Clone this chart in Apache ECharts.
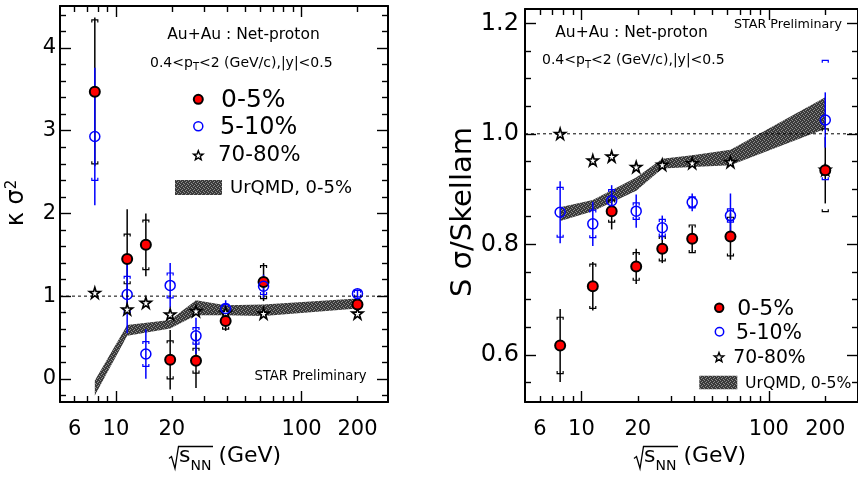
<!DOCTYPE html>
<html><head><meta charset="utf-8">
<script src="https://cdn.jsdelivr.net/npm/echarts@6/dist/echarts.min.js"></script>
<style>html,body{margin:0;padding:0;background:#fff}#c{width:858px;height:477px}</style>
</head><body><div id="c"></div>
<script>
// ---------- data ----------
const energies = [7.7, 11.5, 14.5, 19.6, 27, 39, 62.4, 200];
const bandEnergies = [7.7, 11.5, 19.6, 27, 39, 62.4, 200];
// left panel: kappa sigma^2
const kRed = [3.47, 1.45, 1.62, 0.23, 0.22, 0.70, 1.17, 0.90];
const kRedStat = [0.90, 0.60, 0.38, 0.36, 0.33, 0.12, 0.23, 0.05];
const kRedSys = [0.87, 0.30, 0.30, 0.23, 0.15, 0.10, 0.20, 0.05];
const kBlue = [2.93, 1.02, 0.30, 1.13, 0.52, 0.85, 1.12, 1.03];
const kBlueStat = [0.83, 0.47, 0.30, 0.27, 0.22, 0.10, 0.14, 0.05];
const kBlueSys = [0.53, 0.22, 0.15, 0.15, 0.10, 0.05, 0.10, 0.04];
const kStar = [1.04, 0.84, 0.92, 0.78, 0.82, 0.80, 0.79, 0.79];
const kBandLo = [-0.20, 0.52, 0.61, 0.77, 0.77, 0.76, 0.85];
const kBandHi = [-0.02, 0.65, 0.71, 0.95, 0.89, 0.90, 0.97];
// right panel: S sigma / Skellam
const sRed = [0.617, 0.724, 0.860, 0.760, 0.792, 0.810, 0.814, 0.934];
const sRedStat = [0.066, 0.044, 0.033, 0.032, 0.026, 0.024, 0.042, 0.060];
const sRedSys = [0.051, 0.040, 0.020, 0.025, 0.022, 0.025, 0.035, 0.075];
const sBlue = [0.858, 0.837, 0.879, 0.860, 0.830, 0.876, 0.852, 1.025];
const sBlueStat = [0.056, 0.040, 0.028, 0.030, 0.022, 0.016, 0.040, 0.050];
const sBlueSys = [0.045, 0.025, 0.020, 0.015, 0.015, 0.010, 0.012, 0.108];
const sStar = [1.000, 0.952, 0.959, 0.940, 0.944, 0.947, 0.949, 0.935];
const sBandLo = [0.842, 0.860, 0.897, 0.937, 0.940, 0.943, 1.009];
const sBandHi = [0.867, 0.880, 0.921, 0.955, 0.961, 0.971, 1.066];
// ticks
const xMajorTicks = [10, 100];
const xMinorTicks = [6, 7, 8, 9, 20, 30, 40, 50, 60, 70, 80, 90, 200];
const xTickLabels = [6, 10, 20, 100, 200];
const kMajorTicks = [0, 1, 2, 3, 4];
const kMinorTicks = [-0.2, 0.2, 0.4, 0.6, 0.8, 1.2, 1.4, 1.6, 1.8, 2.2, 2.4, 2.6, 2.8, 3.2, 3.4, 3.6, 3.8, 4.2, 4.4];
const sMajorTicks = [0.6, 0.8, 1.0, 1.2];
const sMinorTicks = [0.55, 0.65, 0.7, 0.75, 0.85, 0.9, 0.95, 1.05, 1.1, 1.15];

// ---------- setup ----------
const F = "'DejaVu Sans', sans-serif";
const chart = echarts.init(document.getElementById('c'), null, {renderer: 'canvas'});

const pat = (function () {
  const c = document.createElement('canvas'); c.width = 4; c.height = 4;
  const g = c.getContext('2d');
  g.fillStyle = '#3a3a3a'; g.fillRect(0, 0, 4, 4);
  g.fillStyle = '#8e8e8e';
  g.fillRect(0, 0, 1, 1); g.fillRect(2, 1, 1, 1); g.fillRect(1, 2, 1, 1); g.fillRect(3, 3, 1, 1);
  return c;
})();
const patFill = {image: pat, repeat: 'repeat'};
const STAR = 'path://M50,2 L61,37 L98,37 L68,59 L79,95 L50,73 L21,95 L32,59 L2,37 L39,37 Z';
function starPoints(cx, cy, R) {
  const pts = [];
  for (let k = 0; k < 10; k++) {
    const r = k % 2 ? R * 0.42 : R;
    const a = -Math.PI / 2 + k * Math.PI / 5;
    pts.push([cx + r * Math.cos(a), cy + r * Math.sin(a)]);
  }
  return pts;
}

function mkX(gi, xmax) {
  const b = {gridIndex: gi, type: 'log', logBase: 10, min: 5, max: xmax, splitLine: {show: false}, axisLabel: {show: false}};
  const line = {show: true, onZero: false, lineStyle: {color: '#000', width: 2}};
  const noLine = {show: false, onZero: false};
  const tk = (vals, len) => ({show: true, inside: true, length: len, customValues: vals, lineStyle: {color: '#000', width: 1.4}});
  return [
    Object.assign({}, b, {position: 'bottom', axisLine: line, axisTick: tk(xMajorTicks, 11),
      axisLabel: {show: true, customValues: xTickLabels, formatter: v => String(v), fontSize: 21, fontFamily: F, color: '#000', margin: 17}}),
    Object.assign({}, b, {position: 'bottom', axisLine: noLine, axisTick: tk(xMinorTicks, 6)}),
    Object.assign({}, b, {position: 'top', axisLine: line, axisTick: tk(xMajorTicks, 11)}),
    Object.assign({}, b, {position: 'top', axisLine: noLine, axisTick: tk(xMinorTicks, 6)})
  ];
}
function mkY(gi, min, max, major, minor, fmt, fs, margin) {
  const b = {gridIndex: gi, type: 'value', min: min, max: max, splitLine: {show: false}, axisLabel: {show: false}};
  const line = {show: true, onZero: false, lineStyle: {color: '#000', width: 2}};
  const noLine = {show: false, onZero: false};
  const tk = (vals, len) => ({show: true, inside: true, length: len, customValues: vals, lineStyle: {color: '#000', width: 1.4}});
  return [
    Object.assign({}, b, {position: 'left', axisLine: line, axisTick: tk(major, 11),
      axisLabel: {show: true, customValues: major, formatter: fmt, fontSize: fs, fontFamily: F, color: '#000', margin: margin}}),
    Object.assign({}, b, {position: 'left', axisLine: noLine, axisTick: tk(minor, 6)}),
    Object.assign({}, b, {position: 'right', axisLine: line, axisTick: tk(major, 11)}),
    Object.assign({}, b, {position: 'right', axisLine: noLine, axisTick: tk(minor, 6)})
  ];
}

function errRender(color) {
  return function (params, api) {
    const x = api.value(0), y = api.value(1), st = api.value(2), sy = api.value(3);
    const a = api.coord([x, y + st]), b = api.coord([x, y - st]);
    const c = api.coord([x, y + sy]), d = api.coord([x, y - sy]);
    const w = 3, h = 2.5;
    const ls = {stroke: color, fill: null, lineWidth: 1.2};
    return {type: 'group', children: [
      {type: 'line', shape: {x1: a[0], y1: a[1], x2: b[0], y2: b[1]}, style: {stroke: color, lineWidth: 1.5}},
      {type: 'polyline', shape: {points: [[c[0] - w, c[1] + h], [c[0] - w, c[1]], [c[0] + w, c[1]], [c[0] + w, c[1] + h]]}, style: ls},
      {type: 'polyline', shape: {points: [[d[0] - w, d[1] - h], [d[0] - w, d[1]], [d[0] + w, d[1]], [d[0] + w, d[1] - h]]}, style: ls}
    ]};
  };
}
function bandRender(lo, hi) {
  return function (params, api) {
    if (params.dataIndex !== 0) return null;
    const pts = [];
    for (let i = 0; i < bandEnergies.length; i++) pts.push(api.coord([bandEnergies[i], hi[i]]));
    for (let i = bandEnergies.length - 1; i >= 0; i--) pts.push(api.coord([bandEnergies[i], lo[i]]));
    return {type: 'polygon', shape: {points: pts}, style: {fill: patFill, stroke: null}};
  };
}
function panelSeries(xi, xmax, red, redStat, redSys, blue, blueStat, blueSys, star, lo, hi) {
  const ax = {xAxisIndex: xi, yAxisIndex: xi};
  return [
    Object.assign({type: 'line', data: [[5, 1], [xmax, 1]], showSymbol: false, symbol: 'none',
      lineStyle: {color: '#000', width: 1, type: [3, 3]}, silent: true}, ax),
    Object.assign({type: 'custom', name: 'UrQMD, 0-5%', renderItem: bandRender(lo, hi), encode: {x: 0, y: [1, 2]},
      data: bandEnergies.map((e, i) => [e, lo[i], hi[i]]), silent: true}, ax),
    Object.assign({type: 'scatter', name: '70-80%', data: energies.map((e, i) => [e, star[i]]), symbol: STAR, symbolSize: 11,
      itemStyle: {color: '#fff', borderColor: '#000', borderWidth: 1.6, opacity: 1}}, ax),
    Object.assign({type: 'custom', renderItem: errRender('#000'), encode: {x: 0, y: 1},
      data: energies.map((e, i) => [e, red[i], redStat[i], redSys[i]]), silent: true}, ax),
    Object.assign({type: 'scatter', name: '0-5%', data: energies.map((e, i) => [e, red[i]]), symbol: 'circle', symbolSize: 10,
      itemStyle: {color: '#ff0000', borderColor: '#000', borderWidth: 2, opacity: 1}}, ax),
    Object.assign({type: 'custom', renderItem: errRender('#0000ff'), encode: {x: 0, y: 1},
      data: energies.map((e, i) => [e, blue[i], blueStat[i], blueSys[i]]), silent: true}, ax),
    Object.assign({type: 'scatter', name: '5-10%', data: energies.map((e, i) => [e, blue[i]]), symbol: 'circle', symbolSize: 10,
      itemStyle: {color: 'rgba(255,255,255,0)', borderColor: '#0000ff', borderWidth: 1.5, opacity: 1}}, ax)
  ];
}

function txt(x, y, text, fs, opt) {
  return Object.assign({type: 'text', x: x, y: y, silent: true,
    style: Object.assign({text: text, fontSize: fs, fontFamily: F, fill: '#000', align: 'left', verticalAlign: 'middle'}, opt || {})});
}
function subLine(x, y, pre, sub, post, fs, sfs, pad) {
  return {type: 'text', x: x, y: y, silent: true, style: {
    text: '{a|' + pre + '}{s|' + sub + '}{a|' + post + '}', fontFamily: F, fill: '#000', align: 'left', verticalAlign: 'top',
    rich: {
      a: {fontSize: fs, fontFamily: F, lineHeight: fs, verticalAlign: 'top', fill: '#000'},
      s: {fontSize: sfs, fontFamily: F, lineHeight: sfs, verticalAlign: 'top', padding: [pad, 0, 0, 0], fill: '#000'}
    }}};
}
function legendBlock(o) {
  return [
    {type: 'circle', shape: {cx: o.rx, cy: o.ry, r: o.r}, style: {fill: '#ff0000', stroke: '#000', lineWidth: 2}, silent: true},
    txt(o.tx1, o.ty1, '0-5%', o.f1),
    {type: 'circle', shape: {cx: o.bx, cy: o.by, r: o.r}, style: {fill: '#fff', stroke: '#0000ff', lineWidth: 1.5}, silent: true},
    txt(o.tx2, o.ty2, '5-10%', o.f2),
    {type: 'polygon', shape: {points: starPoints(o.sx, o.sy, 5)}, style: {fill: '#fff', stroke: '#000', lineWidth: 1.4}, silent: true},
    txt(o.tx3, o.ty3, '70-80%', o.f3),
    {type: 'rect', shape: {x: o.qx, y: o.qy, width: o.qw, height: o.qh}, style: {fill: patFill}, silent: true},
    txt(o.tx4, o.ty4, 'UrQMD, 0-5%', o.f4)
  ];
}
function xTitle(x0, yTop) {
  return [
    {type: 'polyline', shape: {points: [[x0, yTop + 12], [x0 + 2.5, yTop + 10], [x0 + 6, yTop + 22], [x0 + 9.5, yTop], [x0 + 44, yTop]]},
      style: {stroke: '#000', lineWidth: 1.3, fill: null}, silent: true},
    subLine(x0 + 10, yTop - 1.5, 's', 'NN', ' (GeV)', 22, 14, 14)
  ];
}

const graphics = [].concat(
  [txt(243.5, 34.5, 'Au+Au : Net-proton', 15.5, {align: 'center'}),
   subLine(150, 56, '0.4<p', 'T', '<2 (GeV/c),|y|<0.5', 14, 10, 6.5),
   txt(310.5, 377, 'STAR Preliminary', 13.2, {align: 'center'}),
   txt(631.5, 32.5, 'Au+Au : Net-proton', 15.5, {align: 'center'}),
   subLine(542, 53.5, '0.4<p', 'T', '<2 (GeV/c),|y|<0.5', 14, 10, 6.5),
   txt(788, 24.8, 'STAR Preliminary', 12.7, {align: 'center'}),
   {type: 'text', x: 16.8, y: 203, rotation: Math.PI / 2, silent: true, style: {
     text: '{m|κ σ}{p|2}', fontFamily: F, align: 'center', verticalAlign: 'middle', fill: '#000',
     rich: {m: {fontSize: 24, fontFamily: F, lineHeight: 24, padding: [6, 0, 0, 0], verticalAlign: 'bottom', fill: '#000'},
            p: {fontSize: 15, fontFamily: F, lineHeight: 15, verticalAlign: 'top', fill: '#000'}}}},
   {type: 'text', x: 463, y: 212, rotation: Math.PI / 2, silent: true, style: {
     text: 'S σ/Skellam', fontSize: 29, fontFamily: F, align: 'center', verticalAlign: 'middle', fill: '#000'}}],
  legendBlock({rx: 198.3, ry: 99.3, bx: 198.3, by: 126.3, sx: 198.3, sy: 155.7, r: 4.5,
    tx1: 221, ty1: 100.8, f1: 25, tx2: 220, ty2: 127.8, f2: 24, tx3: 218, ty3: 155.9, f3: 21.4,
    qx: 175, qy: 180, qw: 47, qh: 15, tx4: 230, ty4: 188.6, f4: 18}),
  legendBlock({rx: 719.2, ry: 307.7, bx: 719.5, by: 331.7, sx: 719, sy: 357.5, r: 4.2,
    tx1: 737.3, ty1: 309.4, f1: 22, tx2: 736, ty2: 333.9, f2: 20.5, tx3: 733.3, ty3: 357.7, f3: 18.8,
    qx: 699.3, qy: 375.7, qw: 38, qh: 13.6, tx4: 745, ty4: 383.6, f4: 15.7}),
  xTitle(169, 446.5),
  xTitle(634, 446.5)
);

const option = {
  animation: false,
  backgroundColor: '#fff',
  grid: [
    {left: 60, top: 6, width: 328, height: 396, containLabel: false},
    {left: 525, top: 9, width: 337, height: 393, containLabel: false}
  ],
  xAxis: [].concat(mkX(0, 292), mkX(1, 299)),
  yAxis: [].concat(
    mkY(0, -0.28, 4.508, kMajorTicks, kMinorTicks, v => String(Math.round(v)), 21, 4),
    mkY(1, 0.5146, 1.2259, sMajorTicks, sMinorTicks, v => Number(v).toFixed(1), 24, 6)
  ),
  series: [].concat(
    panelSeries(0, 292, kRed, kRedStat, kRedSys, kBlue, kBlueStat, kBlueSys, kStar, kBandLo, kBandHi),
    panelSeries(4, 299, sRed, sRedStat, sRedSys, sBlue, sBlueStat, sBlueSys, sStar, sBandLo, sBandHi)
  ),
  graphic: graphics
};
chart.setOption(option);
</script></body></html>
